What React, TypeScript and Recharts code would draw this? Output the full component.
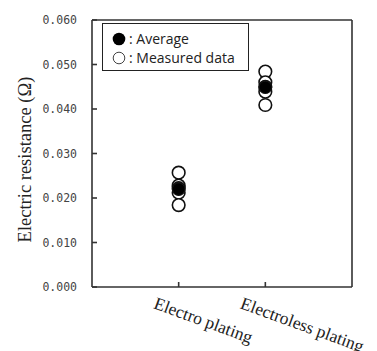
import React from 'react';
import { ScatterChart, Scatter, XAxis, YAxis, ReferenceLine, Legend } from 'recharts';

const categories = ['Electro plating', 'Electroless plating'];
const averageValues = [0.022, 0.0449];
const measuredElectro = [0.0257, 0.0228, 0.0222, 0.0212, 0.0184];
const measuredElectroless = [0.0484, 0.046, 0.045, 0.0439, 0.0409];
const yTicks = [0, 0.01, 0.02, 0.03, 0.04, 0.05, 0.06];
const xTicks = [1, 2];

const measuredSets = [measuredElectro, measuredElectroless];
const measuredData = measuredSets.flatMap((set, i) => set.map((v) => ({ x: i + 1, y: v })));
const averageData = averageValues.map((v, i) => ({ x: i + 1, y: v }));

const AXIS = '#333';

const OpenCircle = (p: any) => (
  <circle cx={p.cx} cy={p.cy} r={6.3} fill="#fff" stroke="#111" strokeWidth={1.6} />
);
const FilledCircle = (p: any) => (
  <circle cx={p.cx} cy={p.cy} r={6.3} fill="#000" stroke="#111" strokeWidth={1.2} />
);

const XTick = (p: any) => {
  const { x, y, payload } = p;
  const label = categories[payload.value - 1] ?? '';
  const tx = x - 26;
  const ty = y + 24;
  return (
    <text
      x={tx}
      y={ty}
      transform={`rotate(20 ${tx} ${ty})`}
      textAnchor="start"
      fontFamily="'Liberation Serif', 'Times New Roman', serif"
      fontSize={17.5}
      fill="#222"
    >
      {label}
    </text>
  );
};

const LegendBox = () => (
  <div
    style={{
      position: 'absolute',
      left: 102,
      top: 23,
      width: 145,
      height: 46,
      border: '1.6px solid #222',
      background: '#fff',
      fontFamily: "'Open Sans', 'Noto Sans', sans-serif",
      fontSize: 14,
      color: '#222',
      boxSizing: 'content-box',
    }}
  >
    <div style={{ position: 'absolute', left: 9, top: 6, display: 'flex', alignItems: 'center', lineHeight: '18px' }}>
      <svg width={14} height={14} style={{ marginRight: 3 }}>
        <circle cx={7} cy={7} r={6.3} fill="#000" />
      </svg>
      <span>: Average</span>
    </div>
    <div style={{ position: 'absolute', left: 9, top: 25, display: 'flex', alignItems: 'center', lineHeight: '18px' }}>
      <svg width={14} height={14} style={{ marginRight: 3 }}>
        <circle cx={7} cy={7} r={5.8} fill="#fff" stroke="#444" strokeWidth={1} />
      </svg>
      <span>: Measured data</span>
    </div>
  </div>
);

export default function App() {
  return (
    <div style={{ position: 'absolute', left: 0, top: 0, width: 377, height: 351, background: '#fff' }}>
      <ScatterChart width={377} height={351} margin={{ top: 20, right: 25, bottom: 24, left: 52 }}>
        <XAxis
          type="number"
          dataKey="x"
          domain={[0, 3]}
          ticks={xTicks}
          interval={0}
          height={40}
          stroke={AXIS}
          strokeWidth={1.6}
          tickSize={-5}
          tick={<XTick />}
        />
        <YAxis
          type="number"
          dataKey="y"
          domain={[0, 0.06]}
          ticks={yTicks}
          interval={0}
          width={40}
          stroke={AXIS}
          strokeWidth={1.6}
          tickSize={-5}
          tickMargin={20}
          tickFormatter={(v: number) => v.toFixed(3)}
          tick={{ fontFamily: "'DejaVu Sans Mono', monospace", fontSize: 11.5, fill: '#444' }}
          label={{
            value: 'Electric resistance (Ω)',
            angle: -90,
            position: 'insideLeft',
            dx: -33,
            dy: 6,
            style: { fontFamily: "'Liberation Serif', 'Times New Roman', serif", fontSize: 18.5, fill: '#222', textAnchor: 'middle' },
          }}
        />
        <ReferenceLine y={0.06} stroke={AXIS} strokeWidth={1.6} />
        <ReferenceLine x={3} stroke={AXIS} strokeWidth={1.6} />
        <Scatter data={measuredData} shape={OpenCircle} isAnimationActive={false} />
        <Scatter data={averageData} shape={FilledCircle} isAnimationActive={false} />
        <Legend content={() => <LegendBox />} wrapperStyle={{ position: 'absolute', left: 0, top: 0, width: 0, height: 0 }} />
      </ScatterChart>
    </div>
  );
}
